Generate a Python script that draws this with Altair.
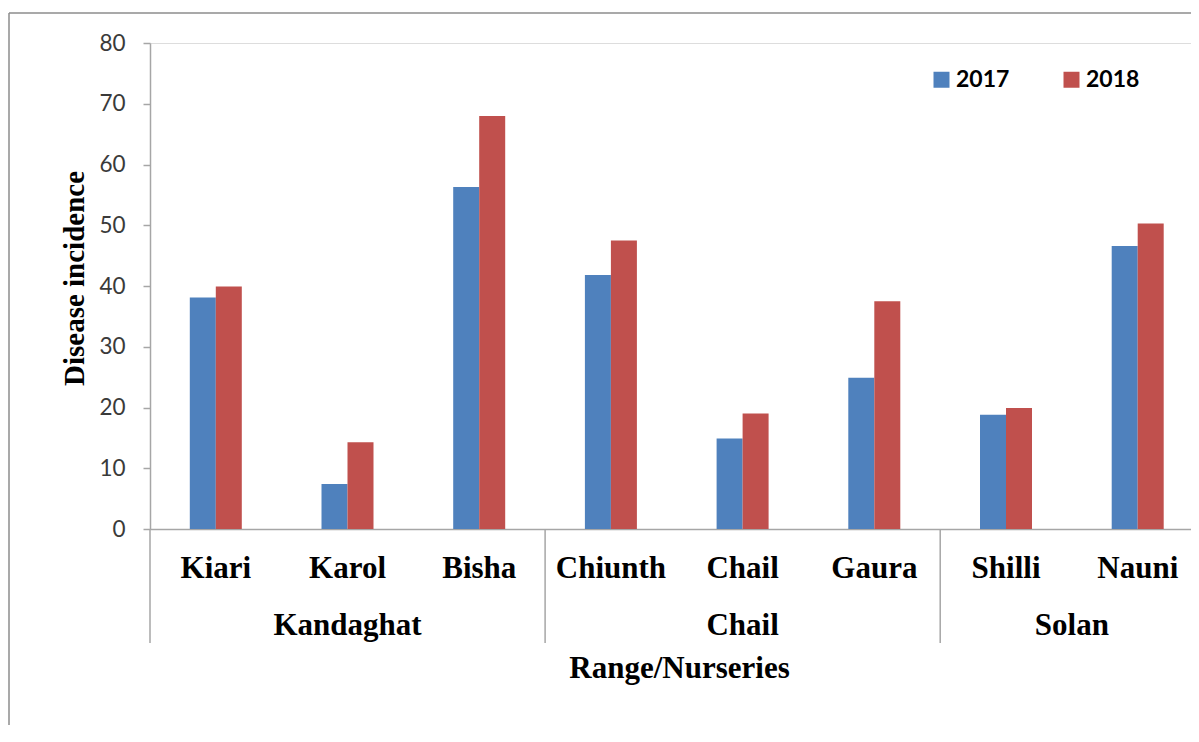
import altair as alt
import pandas as pd

# ---- data ----
nurseries = ["Kiari", "Karol", "Bisha", "Chiunth", "Chail", "Gaura", "Shilli", "Nauni"]
ranges = ["Kandaghat", "Kandaghat", "Kandaghat", "Chail", "Chail", "Chail", "Solan", "Solan"]
values_2017 = [38.1, 7.4, 56.3, 41.8, 14.9, 24.9, 18.8, 46.6]
values_2018 = [39.9, 14.3, 68.0, 47.5, 19.0, 37.5, 19.9, 50.3]
years = ["2017", "2018"]
colors = ["#4F81BD", "#C0504D"]
y_ticks = [0, 10, 20, 30, 40, 50, 60, 70, 80]

rows = []
for i, n in enumerate(nurseries):
    rows.append({"nursery": n, "year": "2017", "value": values_2017[i]})
    rows.append({"nursery": n, "year": "2018", "value": values_2018[i]})
df = pd.DataFrame(rows)

# group boundaries and label anchors
group_names, group_start, group_size = [], [], []
for i, g in enumerate(ranges):
    if not group_names or group_names[-1] != g:
        group_names.append(g)
        group_start.append(i)
        group_size.append(1)
    else:
        group_size[-1] += 1

sep_df = pd.DataFrame({"nursery": [nurseries[s] for s in group_start]})
odd_rows, even_rows = [], []
for g, s, n in zip(group_names, group_start, group_size):
    if n % 2 == 1:
        odd_rows.append({"nursery": nurseries[s + n // 2], "label": g})
    else:
        even_rows.append({"nursery": nurseries[s + n // 2 - 1], "label": g})
odd_df = pd.DataFrame(odd_rows)
even_df = pd.DataFrame(even_rows)

SERIF = "Liberation Serif"
SANS = "Lato"
GRAY = "#a6a6a6"
PLOT_H = 486
STEP_RANGE = [0, 1053.6]
X_TITLE = "Range/Nurseries"

xscale = alt.Scale(domain=nurseries, range=STEP_RANGE, paddingInner=0, paddingOuter=0)
x_axis = alt.Axis(labelFont=SERIF, labelFontSize=31, labelFontWeight="bold",
                  labelColor="black", labelAngle=0, labelBaseline="alphabetic",
                  labelPadding=48, ticks=False, tickSize=0,
                  domainColor=GRAY, domainWidth=1.5,
                  titleFont=SERIF, titleFontSize=31, titleFontWeight="bold",
                  titleColor="black", titleX=529, titleY=148,
                  titleBaseline="alphabetic", titleAlign="center")

bars = alt.Chart(df).mark_bar().encode(
    x=alt.X("nursery:N", sort=nurseries, scale=xscale, title=X_TITLE, axis=x_axis),
    xOffset=alt.XOffset("year:N", sort=years,
                        scale=alt.Scale(domain=years, range=[39.8, 91.8],
                                        paddingInner=0, paddingOuter=0)),
    y=alt.Y("value:Q", scale=alt.Scale(domain=[0, 80], nice=False),
            title="Disease incidence",
            axis=alt.Axis(values=y_ticks, grid=False, labelFont=SANS, labelFontSize=22.5,
                          labelColor="#3a3a3a", labelPadding=18, tickSize=7,
                          tickColor=GRAY, tickWidth=1.5, domainColor=GRAY,
                          domainWidth=1.5, titleFont=SERIF, titleFontSize=29,
                          titleFontWeight="bold", titleColor="black",
                          titleX=-67, titleY=235, titleBaseline="alphabetic",
                          titleAlign="center", titleAngle=270)),
    color=alt.Color("year:N", sort=years,
                    scale=alt.Scale(domain=years, range=colors),
                    legend=alt.Legend(title=None, orient="none", legendX=780, legendY=25,
                                      direction="horizontal", symbolType="square",
                                      symbolSize=256, symbolStrokeWidth=0,
                                      labelFont=SANS, labelFontSize=23,
                                      labelFontWeight="bold", labelColor="black",
                                      labelOffset=3, columnPadding=50)),
)

seps = alt.Chart(sep_df).mark_rule(color=GRAY, strokeWidth=1.5).encode(
    x=alt.X("nursery:N", sort=nurseries, bandPosition=0, title=X_TITLE),
    y=alt.value(PLOT_H),
    y2=alt.value(PLOT_H + 114),
)

glab_odd = alt.Chart(odd_df).mark_text(
    font=SERIF, fontSize=31, fontWeight="bold", color="black",
    baseline="alphabetic", align="center").encode(
    x=alt.X("nursery:N", sort=nurseries, bandPosition=0.5, title=X_TITLE),
    y=alt.value(592),
    text="label:N",
)

glab_even = alt.Chart(even_df).mark_text(
    font=SERIF, fontSize=31, fontWeight="bold", color="black",
    baseline="alphabetic", align="center").encode(
    x=alt.X("nursery:N", sort=nurseries, bandPosition=1, title=X_TITLE),
    y=alt.value(592),
    text="label:N",
)

one = alt.Data(values=[{"k": 1}])
border_v = alt.Chart(one).mark_rule(color="#8c8c8c", strokeWidth=1.5).encode(
    x=alt.value(-141), y=alt.value(-30), y2=alt.value(PLOT_H + 250))
border_h = alt.Chart(one).mark_rule(color="#8c8c8c", strokeWidth=1.5).encode(
    x=alt.value(-141), x2=alt.value(1100), y=alt.value(-30))

chart = alt.layer(bars, seps, glab_odd, glab_even, border_v, border_h).properties(
    width=1041, height=PLOT_H,
    autosize=alt.AutoSizeParams(type="none"),
    padding={"left": 142, "top": 35, "right": 0, "bottom": 196},
).configure_view(strokeWidth=0).configure(background="white")

chart.save("out.html", embed_options={"renderer": "svg", "actions": False})
